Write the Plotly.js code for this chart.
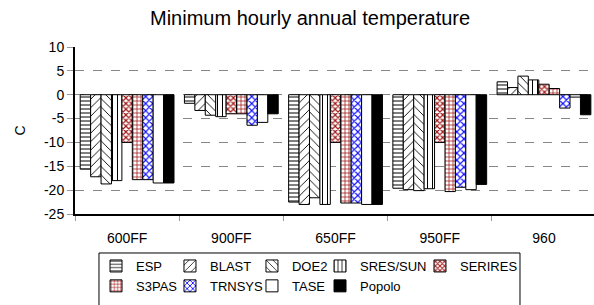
<!DOCTYPE html>
<html>
<head>
<meta charset="utf-8">
<script src="https://cdn.plot.ly/plotly-3.0.1.min.js"></script>
<style>html,body{margin:0;padding:0;background:#fff;}#chart{width:594px;height:305px;}</style>
</head>
<body>
<div id="chart"></div>
<script>
var categories = ["600FF", "900FF", "650FF", "950FF", "960"];
var ESP      = [-15.6, -1.8, -22.5, -19.6, 2.7];
var BLAST    = [-17.2, -3.3, -23.0, -19.9, 1.5];
var DOE2     = [-18.7, -4.3, -21.6, -20.1, 3.9];
var SRES_SUN = [-18.0, -4.6, -23.0, -19.7, 3.1];
var SERIRES  = [-10.0, -4.0, -10.0, -10.0, 2.2];
var S3PAS    = [-17.8, -4.0, -22.7, -20.3, 1.3];
var TRNSYS   = [-17.8, -6.4, -22.7, -19.4, -2.8];
var TASE     = [-18.5, -5.8, -23.0, -19.9, -0.5];
var Popolo   = [-18.5, -4.0, -23.0, -18.8, -4.2];
var yTicks = [-25, -20, -15, -10, -5, 0, 5, 10];

function bar(name, vals, pat, leg) {
  return {
    type: "bar", name: name, x: categories, y: vals, legend: leg, legendgroup: name,
    marker: {
      color: pat.bg,
      line: {color: "#000", width: 1},
      pattern: pat.shape ? {shape: pat.shape, fgcolor: pat.fg, bgcolor: pat.bg, size: pat.size, solidity: pat.sol, fillmode: "replace"} : undefined
    }
  };
}

var data = [
  bar("ESP", ESP, {shape: "-", fg: "#000", bg: "#fff", size: 4, sol: 0.25}, "legend"),
  bar("BLAST", BLAST, {shape: "/", fg: "#000", bg: "#fff", size: 6, sol: 0.15}, "legend2"),
  bar("DOE2", DOE2, {shape: "\\", fg: "#000", bg: "#fff", size: 6, sol: 0.15}, "legend3"),
  bar("SRES/SUN", SRES_SUN, {shape: "|", fg: "#000", bg: "#fff", size: 5, sol: 0.2}, "legend4"),
  bar("SERIRES", SERIRES, {shape: "x", fg: "#a01818", bg: "#fff", size: 4, sol: 0.5}, "legend5"),
  bar("S3PAS", S3PAS, {shape: "+", fg: "#a01818", bg: "#fff", size: 4, sol: 0.35}, "legend"),
  bar("TRNSYS", TRNSYS, {shape: "x", fg: "#1010ff", bg: "#fff", size: 5, sol: 0.4}, "legend2"),
  bar("TASE", TASE, {bg: "#fff"}, "legend3"),
  bar("Popolo", Popolo, {bg: "#000"}, "legend4")
];

function legendAt(x) {
  return {
    orientation: "v", x: x, xanchor: "left", y: -0.2216, yanchor: "top",
    borderwidth: 0, bgcolor: "rgba(0,0,0,0)",
    font: {size: 13, color: "#000", family: "Liberation Sans, Arial, sans-serif"},
    itemwidth: 30, traceorder: "normal", tracegroupgap: 5
  };
}

var layout = {
  width: 594, height: 305,
  margin: {l: 75, r: 0, t: 47, b: 91},
  paper_bgcolor: "#fff", plot_bgcolor: "#fff",
  font: {family: "Liberation Sans, Arial, sans-serif", size: 14, color: "#000"},
  title: {text: "Minimum hourly annual temperature", font: {size: 20, color: "#000"}, x: 0.522, xref: "container", xanchor: "center", y: 0.94, yref: "container", yanchor: "middle"},
  barmode: "group", bargap: 0.1, bargroupgap: 0,
  showlegend: true,
  legend: legendAt(0.0405),
  legend2: legendAt(0.1830),
  legend3: legendAt(0.3410),
  legend4: legendAt(0.4721),
  legend5: legendAt(0.6647),
  shapes: [{type: "rect", xref: "paper", yref: "paper", x0: 0.0462, x1: 0.8574, y0: -0.2335, y1: -0.6,
            line: {color: "#000", width: 1}, fillcolor: "rgba(0,0,0,0)", layer: "above"}],
  xaxis: {
    type: "category", range: [-0.5, 4.48],
    showline: true, linecolor: "#000", linewidth: 2,
    ticks: "outside", tickson: "boundaries", ticklen: 5, tickcolor: "#999",
    ticklabelstandoff: 10, showgrid: false, fixedrange: true,
    tickfont: {size: 14, color: "#000"}
  },
  yaxis: {
    range: [-25, 10], tickvals: yTicks, ticktext: yTicks.map(String),
    showline: true, linecolor: "#000", linewidth: 2,
    ticks: "outside", ticklen: 6, tickcolor: "#999",
    showgrid: true, gridcolor: "#888", griddash: "dash", gridwidth: 1,
    zeroline: false, fixedrange: true,
    title: {text: "C", font: {size: 14, color: "#000"}, standoff: 15},
    tickfont: {size: 14, color: "#000"}
  }
};

Plotly.newPlot("chart", data, layout, {displayModeBar: false, staticPlot: true});
</script>
</body>
</html>
